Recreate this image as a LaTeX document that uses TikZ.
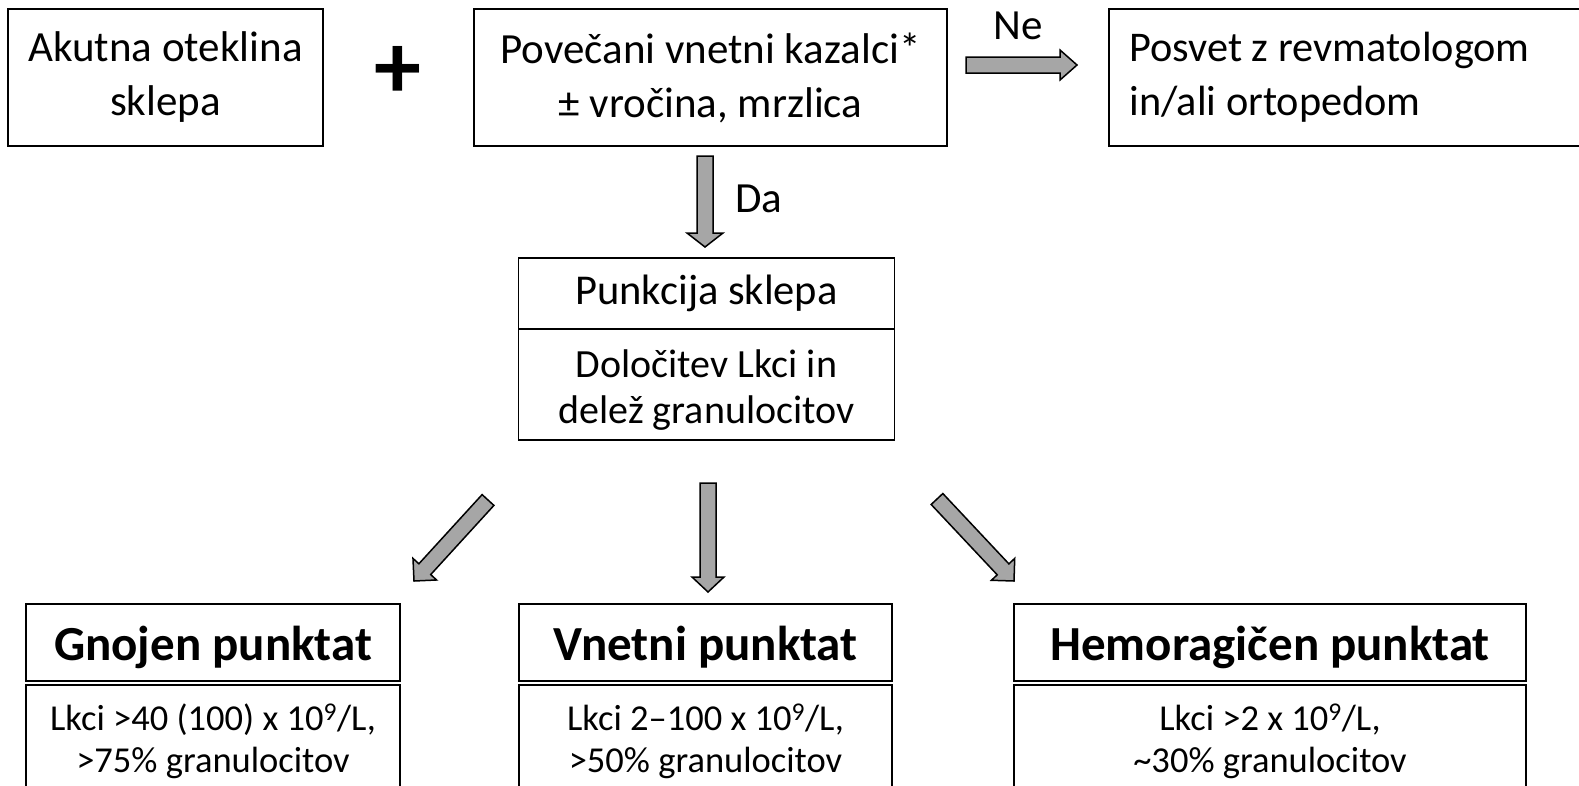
\documentclass[tikz,border=0pt]{standalone}
\usepackage{fontspec}
\setmainfont{Carlito}
\usetikzlibrary{calc}
\definecolor{arrowgray}{HTML}{A6A6A6}
\newcommand\blockarrow[5]{%
  \coordinate (hb) at ($(#2)!#5!(#1)$);
  \draw[barrow] ($(#1)!#3!90:(#2)$) -- ($(hb)!#3!90:(#2)$) -- ($(hb)!#4!90:(#2)$) -- (#2)
    -- ($(hb)!#4!-90:(#2)$) -- ($(hb)!#3!-90:(#2)$) -- ($(#1)!#3!-90:(#2)$) -- cycle;}
\tikzset{
  box/.style={draw=black, line width=1.6pt, rectangle, inner sep=0pt},
  toptxt/.style={inner sep=0pt, align=center, font=\fontsize{43}{54}\selectfont},
  midtxt/.style={inner sep=0pt, align=center, font=\fontsize{40}{46}\selectfont},
  headtxt/.style={inner sep=0pt, anchor=base, font=\fontsize{49}{54}\selectfont\bfseries},
  bodytxt/.style={inner sep=0pt, anchor=base, font=\fontsize{36.5}{42}\selectfont},
  barrow/.style={draw=black, fill=arrowgray, line width=1.5pt, line join=miter},
  lbl/.style={font=\fontsize{43}{48}\selectfont, inner sep=0pt}
}
\begin{document}
\begin{tikzpicture}[x=1pt, y=-1pt]
\useasboundingbox (0,0) rectangle (1579,785);
\fill[white] (0,0) rectangle (1579,785);
% top row
\node[box, minimum width=315pt, minimum height=137pt] (acute) at (165.5,77.5) {};
\node[toptxt] (acuteT) at (acute.center) {Akutna oteklina\\sklepa};
\node[inner sep=0pt, font=\fontsize{94}{94}\selectfont\bfseries] (plus) at (398,72) {+};
\node[box, minimum width=473pt, minimum height=137pt] (marker) at (710.5,77.5) {};
\node[toptxt] (markerT) at (marker.center) {Povečani vnetni kazalci*\\± vročina, mrzlica};
\node[box, minimum width=476pt, minimum height=137pt] (consult) at (1347,77.5) {};
\node[toptxt, align=left, anchor=west, font=\fontsize{42.3}{54}\selectfont] (consultT) at ($(consult.west)+(21,0)$) {Posvet z revmatologom\\in/ali ortopedom};
% Ne arrow
\coordinate (neT) at (966,65);
\coordinate (neH) at (1077,65);
\blockarrow{neT}{neH}{8pt}{15pt}{17pt}
\node[lbl] (ne) at (1018,26) {Ne};
% Da arrow
\coordinate (daT) at (705,156);
\coordinate (daH) at (705,247);
\blockarrow{daT}{daH}{8pt}{18pt}{14pt}
\node[lbl] (da) at (759,199) {Da};
% punkcija
\node[box, minimum width=376pt, minimum height=71pt] (punk) at (706.5,293.5) {};
\node[midtxt, font=\fontsize{42.5}{46}\selectfont] (punkT) at (punk.center) {Punkcija sklepa};
\node[box, minimum width=376pt, minimum height=111pt] (dolo) at (706.5,384.5) {};
\node[midtxt] (doloT) at (706.5,390) {Določitev Lkci in\\delež granulocitov};
% three arrows
\coordinate (lT) at (488,500);
\coordinate (lH) at (414,581);
\blockarrow{lT}{lH}{8pt}{16pt}{16pt}
\coordinate (mT) at (708,483);
\coordinate (mH) at (708,592);
\blockarrow{mT}{mH}{8pt}{16pt}{15pt}
\coordinate (rT) at (937,499);
\coordinate (rH) at (1014,581);
\blockarrow{rT}{rH}{8pt}{16pt}{16pt}
% bottom boxes
\node[box, minimum width=374pt, minimum height=77pt] (gh) at (213,642.5) {};
\node[headtxt] (ghT) at (213,660) {Gnojen punktat};
\node[box, minimum width=374pt, minimum height=114pt] (gb) at (213,742) {};
\node[bodytxt] (gbT1) at (213,730) {Lkci >40 (100) x 10\textsuperscript{9}/L,};
\node[bodytxt] (gbT2) at (213,772) {>75\% granulocitov};
\node[box, minimum width=373pt, minimum height=77pt] (vh) at (705.5,642.5) {};
\node[headtxt] (vhT) at (705.5,660) {Vnetni punktat};
\node[box, minimum width=373pt, minimum height=114pt] (vb) at (705.5,742) {};
\node[bodytxt] (vbT1) at (705.5,730) {Lkci 2–100 x 10\textsuperscript{9}/L,};
\node[bodytxt] (vbT2) at (705.5,772) {>50\% granulocitov};
\node[box, minimum width=512pt, minimum height=77pt] (hh) at (1270,642.5) {};
\node[headtxt] (hhT) at (1270,660) {Hemoragičen punktat};
\node[box, minimum width=512pt, minimum height=114pt] (hb2) at (1270,742) {};
\node[bodytxt] (hbT1) at (1270,730) {Lkci >2 x 10\textsuperscript{9}/L,};
\node[bodytxt] (hbT2) at (1270,772) {\textasciitilde30\% granulocitov};
\end{tikzpicture}
\end{document}
